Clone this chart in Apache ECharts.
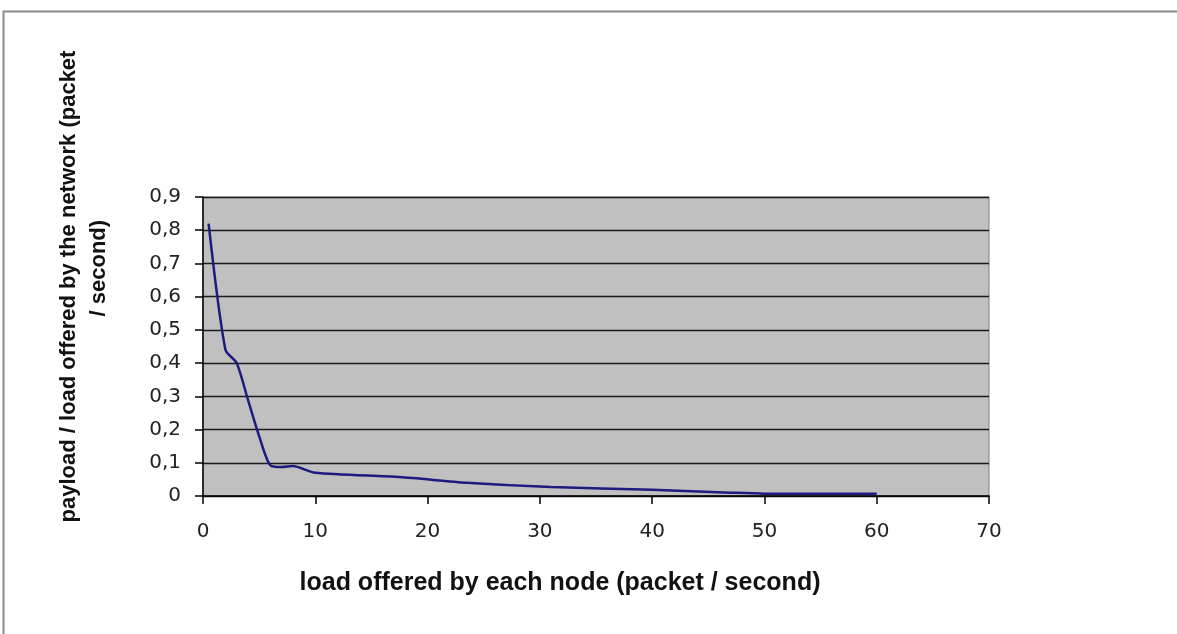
<!DOCTYPE html>
<html>
<head>
<meta charset="utf-8">
<script src="https://cdn.jsdelivr.net/npm/echarts@6/dist/echarts.min.js"></script>
<style>
html,body{margin:0;padding:0;background:#fff;}
#chart{width:1177px;height:634px;}
</style>
</head>
<body>
<div id="chart"></div>
<script>
var loadOffered = [0.5, 2, 3, 4, 5, 6, 7, 8, 10, 17.5, 23.5, 31, 40, 47, 50, 60];
var payloadRatio = [0.82, 0.44, 0.40, 0.29, 0.18, 0.092, 0.087, 0.09, 0.07, 0.057, 0.04, 0.027, 0.019, 0.01, 0.007, 0.007];
var xTitle = 'load offered by each node (packet / second)';
var yTitle = 'payload / load offered by the network (packet\n      / second)';

var points = loadOffered.map(function (x, i) { return [x, payloadRatio[i]]; });
var chart = echarts.init(document.getElementById('chart'));
chart.setOption({
  animation: false,
  backgroundColor: '#ffffff',
  graphic: [{
    type: 'rect',
    shape: { x: 3.5, y: 11.5, width: 1190, height: 640 },
    style: { fill: 'none', stroke: '#8a8a8a', lineWidth: 2 },
    z: -1
  }],
  grid: {
    left: 203, right: 188, top: 197, bottom: 138,
    containLabel: false, outerBoundsMode: 'none',
    show: true, backgroundColor: '#c0c0c0', borderColor: '#808080', borderWidth: 1
  },
  xAxis: {
    type: 'value', min: 0, max: 70, interval: 10,
    name: xTitle, nameLocation: 'middle', nameGap: 75,
    nameTextStyle: { fontFamily: 'Liberation Sans', fontWeight: 'bold', fontSize: 25, color: '#111', padding: [0, 72, 0, 0] },
    axisLine: { lineStyle: { color: '#000', width: 1.5 } },
    axisTick: { show: true, length: 8, lineStyle: { color: '#000', width: 1.5 } },
    axisLabel: { fontFamily: 'DejaVu Sans', fontSize: 20, color: '#222', margin: 26 },
    splitLine: { show: false }
  },
  yAxis: {
    type: 'value', min: 0, max: 0.9, interval: 0.1,
    name: yTitle, nameLocation: 'middle', nameGap: 89, nameRotate: 90,
    nameTextStyle: { fontFamily: 'Liberation Sans', fontWeight: 'bold', fontSize: 22, color: '#111', lineHeight: 30, padding: [0, 0, 0, 120] },
    axisLine: { show: true, lineStyle: { color: '#000', width: 1.5 } },
    axisTick: { show: true, length: 8, lineStyle: { color: '#000', width: 1.5 } },
    axisLabel: {
      fontFamily: 'DejaVu Sans', fontSize: 20, color: '#222', margin: 22,
      formatter: function (v) { return (Math.round(v * 10) / 10).toString().replace('.', ','); }
    },
    splitLine: { show: true, lineStyle: { color: '#1a1a1a', width: 1.3 } }
  },
  series: [{
    type: 'line',
    data: points,
    smooth: 0.25,
    showSymbol: false,
    lineStyle: { color: '#1c1c80', width: 2.5 }
  }]
});
</script>
</body>
</html>
